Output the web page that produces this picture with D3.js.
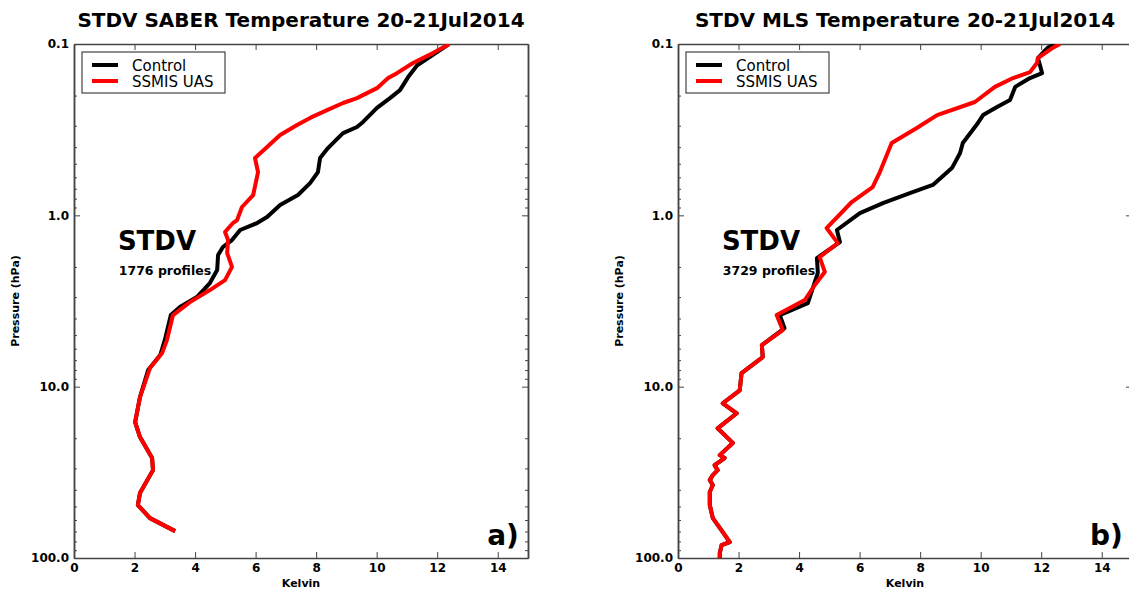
<!DOCTYPE html>
<html>
<head>
<meta charset="utf-8">
<script src="https://cdn.jsdelivr.net/npm/d3@7"></script>
<style>
  body { margin: 0; background: #fff; overflow: hidden; }
  svg { display: block; font-family: "DejaVu Sans", sans-serif; }
</style>
</head>
<body>
<svg id="chart" width="1129" height="590"></svg>
<script>
'use strict';

// panel a) SABER
const saberCtlP = [0.1, 0.119, 0.133, 0.156, 0.186, 0.207, 0.236, 0.285, 0.305, 0.331, 0.354, 0.405, 0.463, 0.559, 0.648, 0.761, 0.871, 1.023, 1.109, 1.218, 1.394, 1.531, 1.706, 2.086, 2.485, 3.0, 3.43, 3.82, 5.35, 6.54, 8.0, 11.5, 16.1, 19.7, 26.1, 30.7, 41.8, 49.1, 58.5, 69.7];
const saberCtlK = [12.39, 11.76, 11.34, 11.04, 10.77, 10.44, 10.01, 9.55, 9.35, 8.89, 8.72, 8.39, 8.13, 8.06, 7.80, 7.40, 6.81, 6.38, 6.05, 5.49, 5.22, 4.92, 4.76, 4.73, 4.49, 4.06, 3.50, 3.20, 3.00, 2.85, 2.45, 2.18, 2.02, 2.18, 2.58, 2.61, 2.18, 2.11, 2.51, 3.34];
const saberUasP = [0.1, 0.113, 0.129, 0.148, 0.158, 0.181, 0.207, 0.221, 0.243, 0.270, 0.297, 0.340, 0.399, 0.463, 0.559, 0.761, 0.894, 1.065, 1.109, 1.252, 1.394, 1.66, 2.0, 2.39, 2.73, 3.21, 3.82, 5.35, 6.37, 7.79, 11.5, 16.1, 19.7, 26.1, 30.7, 41.8, 49.1, 58.5, 69.7];
const saberUasK = [12.4, 11.86, 11.20, 10.67, 10.38, 10.01, 9.35, 8.89, 8.36, 7.80, 7.37, 6.81, 6.38, 5.98, 6.08, 5.92, 5.55, 5.39, 5.25, 4.99, 5.09, 5.06, 5.22, 4.99, 4.49, 3.83, 3.27, 3.07, 2.91, 2.51, 2.18, 2.02, 2.18, 2.58, 2.61, 2.18, 2.11, 2.51, 3.34];

// panel b) MLS
const mlsCtlP = [0.1, 0.105, 0.121, 0.133, 0.148, 0.158, 0.178, 0.212, 0.233, 0.260, 0.289, 0.378, 0.433, 0.530, 0.665, 0.741, 0.848, 0.970, 1.218, 1.432, 1.775, 2.17, 3.25, 3.82, 4.55, 5.72, 6.72, 8.33, 10.5, 12.5, 14.3, 17.5, 21.3, 25.1, 26.1, 28.7, 30.7, 32.8, 35.1, 37.5, 41.2, 49.1, 58.5, 70.6, 80.7, 84.1, 93.6, 100];
const mlsCtlK = [12.5, 12.22, 11.89, 11.96, 12.03, 11.63, 11.14, 10.97, 10.54, 10.08, 9.91, 9.41, 9.32, 9.05, 8.42, 7.66, 6.77, 6.01, 5.25, 5.35, 4.59, 4.62, 4.29, 3.36, 3.52, 2.77, 2.80, 2.10, 2.04, 1.48, 1.94, 1.31, 1.81, 1.38, 1.54, 1.21, 1.31, 1.15, 1.05, 1.15, 1.05, 1.05, 1.15, 1.48, 1.71, 1.44, 1.38, 1.38];
const mlsUasP = [0.1, 0.105, 0.121, 0.129, 0.146, 0.158, 0.178, 0.218, 0.260, 0.309, 0.378, 0.559, 0.684, 0.836, 1.186, 1.452, 1.752, 2.14, 2.55, 3.12, 3.82, 4.67, 5.72, 6.72, 8.33, 10.5, 12.5, 14.3, 17.5, 21.3, 25.1, 26.1, 28.7, 30.7, 32.8, 35.1, 37.5, 41.2, 49.1, 58.5, 70.6, 80.7, 84.1, 93.6, 100];
const mlsUasK = [12.62, 12.39, 11.89, 11.86, 11.63, 11.07, 10.47, 9.81, 8.56, 7.89, 7.06, 6.67, 6.43, 5.74, 4.91, 5.28, 4.68, 4.85, 4.52, 4.19, 3.26, 3.46, 2.77, 2.80, 2.10, 2.04, 1.48, 1.94, 1.31, 1.81, 1.38, 1.54, 1.21, 1.31, 1.15, 1.05, 1.15, 1.05, 1.05, 1.15, 1.48, 1.71, 1.44, 1.38, 1.38];

const xTicks = [0, 2, 4, 6, 8, 10, 12, 14];
const yTicks = [0.1, 1, 10, 100];
const seriesNames = ['Control', 'SSMIS UAS'];
const seriesColors = ['#000000', '#ff0000'];

const svg = d3.select('#chart');

const panels = [
  { left: 74, right: 528, title: 'STDV SABER Temperature 20-21Jul2014', count: '1776 profiles', tag: 'a)',
    series: [[saberCtlP, saberCtlK], [saberUasP, saberUasK]] },
  { left: 678, right: 1132, title: 'STDV MLS Temperature 20-21Jul2014', count: '3729 profiles', tag: 'b)',
    series: [[mlsCtlP, mlsCtlK], [mlsUasP, mlsUasK]] }
];

const plotTop = 44, plotBottom = 558;

// minor log ticks
const minorTicks = [];
[0.1, 1, 10].forEach(d => {
  for (let m = 2; m <= 9; m++) minorTicks.push(d * m);
});

panels.forEach((p, idx) => {
  const x = d3.scaleLinear().domain([0, 15]).range([p.left, p.right]);
  const y = d3.scaleLog().domain([0.1, 100]).range([plotTop, plotBottom]);
  const g = svg.append('g');

  g.append('clipPath').attr('id', 'clip' + idx)
    .append('rect')
    .attr('x', p.left).attr('y', plotTop)
    .attr('width', p.right - p.left).attr('height', plotBottom - plotTop);

  // axes
  g.append('g').attr('transform', `translate(0,${plotBottom})`)
    .call(d3.axisBottom(x).tickValues(xTicks).tickFormat(d3.format('d'))
      .tickSizeInner(-6).tickSizeOuter(0).tickPadding(5));
  g.append('g').attr('transform', `translate(0,${plotTop})`)
    .call(d3.axisTop(x).tickValues(xTicks).tickFormat('')
      .tickSizeInner(-6).tickSizeOuter(0));
  g.append('g').attr('transform', `translate(${p.left},0)`)
    .call(d3.axisLeft(y).tickValues(yTicks).tickFormat(d3.format('.1f'))
      .tickSizeInner(-6).tickSizeOuter(0).tickPadding(5));
  g.append('g').attr('transform', `translate(${p.left},0)`)
    .call(d3.axisLeft(y).tickValues(minorTicks).tickFormat('')
      .tickSizeInner(-3).tickSizeOuter(0));
  g.append('g').attr('transform', `translate(${p.right},0)`)
    .call(d3.axisRight(y).tickValues(yTicks).tickFormat('')
      .tickSizeInner(-6).tickSizeOuter(0));
  g.append('g').attr('transform', `translate(${p.right},0)`)
    .call(d3.axisRight(y).tickValues(minorTicks).tickFormat('')
      .tickSizeInner(-3).tickSizeOuter(0));

  g.selectAll('.domain').attr('stroke', '#444').attr('stroke-width', 1.5);
  g.selectAll('.tick line').attr('stroke', '#444');
  g.selectAll('.tick text')
    .attr('font-family', '"DejaVu Sans", sans-serif')
    .attr('font-size', 12).attr('font-weight', 'bold').attr('fill', '#000');

  // annotations (under the lines)
  g.append('text')
    .attr('x', x(1.45)).attr('y', 250)
    .attr('font-size', 26).attr('font-weight', 'bold')
    .text('STDV');
  g.append('text')
    .attr('x', x(1.48)).attr('y', 275)
    .attr('font-size', 12.5).attr('font-weight', 'bold')
    .text(p.count);
  g.append('text')
    .attr('x', x(14.7)).attr('y', 545)
    .attr('text-anchor', 'end')
    .attr('font-size', 28).attr('font-weight', 'bold')
    .text(p.tag);

  // lines
  const line = d3.line().x(d => x(d[1])).y(d => y(d[0]));
  p.series.forEach((s, i) => {
    const pts = s[0].map((v, j) => [v, s[1][j]]);
    g.append('path')
      .datum(pts)
      .attr('clip-path', `url(#clip${idx})`)
      .attr('fill', 'none')
      .attr('stroke', seriesColors[i])
      .attr('stroke-width', 4)
      .attr('stroke-linejoin', 'round')
      .attr('d', line);
  });

  // title
  g.append('text')
    .attr('x', (p.left + p.right) / 2)
    .attr('y', 27)
    .attr('text-anchor', 'middle')
    .attr('font-size', 20).attr('font-weight', 'bold')
    .text(p.title);

  // axis labels
  g.append('text')
    .attr('x', (p.left + p.right) / 2).attr('y', 587)
    .attr('text-anchor', 'middle')
    .attr('font-size', 11).attr('font-weight', 'bold')
    .text('Kelvin');
  g.append('text')
    .attr('transform', `translate(${p.left - 55},${(plotTop + plotBottom) / 2}) rotate(-90)`)
    .attr('text-anchor', 'middle')
    .attr('font-size', 11).attr('font-weight', 'bold')
    .text('Pressure (hPa)');

  // legend
  const lg = g.append('g').attr('transform', `translate(${p.left + 8},52)`);
  lg.append('rect')
    .attr('width', 143).attr('height', 41)
    .attr('fill', '#fff').attr('stroke', '#444').attr('stroke-width', 1.2);
  seriesNames.forEach((n, i) => {
    lg.append('line')
      .attr('x1', 10).attr('x2', 36)
      .attr('y1', 13 + i * 16).attr('y2', 13 + i * 16)
      .attr('stroke', seriesColors[i]).attr('stroke-width', 4);
    lg.append('text')
      .attr('x', 50).attr('y', 19 + i * 16)
      .attr('font-size', 15)
      .text(n);
  });
});
</script>
</body>
</html>
